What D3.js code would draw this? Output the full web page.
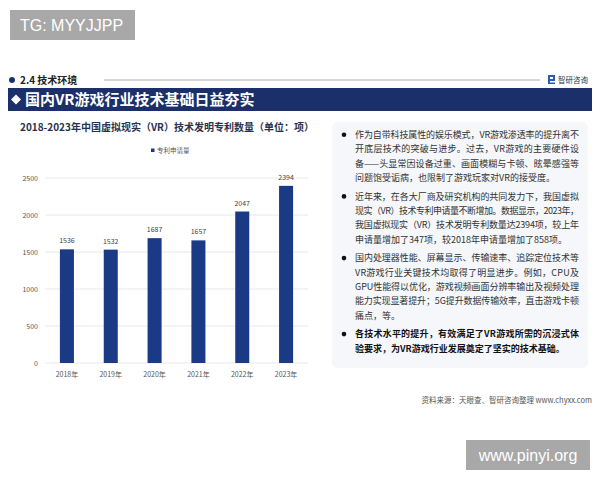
<!DOCTYPE html>
<html>
<head>
<meta charset="utf-8">
<script src="https://cdn.jsdelivr.net/npm/d3@7"></script>
<style>
  body { margin: 0; background: #fff; }
  svg { display: block; font-family: "Noto Sans CJK SC", "Noto Sans", sans-serif; }
</style>
</head>
<body>
<div id="chart"></div>
<script>
// data
const years = ['2018年', '2019年', '2020年', '2021年', '2022年', '2023年'];
const patents = [1536, 1532, 1687, 1657, 2047, 2394];
const yTicks = [0, 500, 1000, 1500, 2000, 2500];

const bullets = [
  { bold: false, lines: [
    '作为自带科技属性的娱乐模式，VR游戏渗透率的提升离不',
    '开底层技术的突破与进步。过去，VR游戏的主要硬件设',
    '备——头显常因设备过重、画面模糊与卡顿、眩晕感强等',
    '问题饱受诟病，也限制了游戏玩家对VR的接受度。'] },
  { bold: false, lines: [
    '近年来，在各大厂商及研究机构的共同发力下，我国虚拟',
    '现实（VR）技术专利申请量不断增加。数据显示，2023年，',
    '我国虚拟现实（VR）技术发明专利数量达2394项，较上年',
    '申请量增加了347项，较2018年申请量增加了858项。'] },
  { bold: false, lines: [
    '国内处理器性能、屏幕显示、传输速率、追踪定位技术等',
    'VR游戏行业关键技术均取得了明显进步。例如，CPU及',
    'GPU性能得以优化，游戏视频画面分辨率输出及视频处理',
    '能力实现显著提升；5G提升数据传输效率，直击游戏卡顿',
    '痛点，等。'] },
  { bold: true, lines: [
    '各技术水平的提升，有效满足了VR游戏所需的沉浸式体',
    '验要求，为VR游戏行业发展奠定了坚实的技术基础。'] }
];

const W = 600, H = 480;
const NAVY = '#1b2f6b';
const BAR = '#1b3a86';

const svg = d3.select('#chart').append('svg')
    .attr('width', W)
    .attr('height', H);

// top-left gray tag
svg.append('rect').attr('x', 10).attr('y', 10).attr('width', 125).attr('height', 30).attr('fill', '#a8a8a8');
svg.append('text').attr('x', 20).attr('y', 31).attr('fill', '#fff')
  .style('font-size', '16px').style('font-family', 'Liberation Sans, Arial, sans-serif')
  .text('TG: MYYJJPP');

// section header
svg.append('circle').attr('cx', 12).attr('cy', 80).attr('r', 3).attr('fill', NAVY);
svg.append('text').attr('x', 20).attr('y', 84).attr('fill', '#222')
  .style('font-size', '10px').style('font-weight', 'bold').text('2.4 技术环境');
svg.append('line').attr('x1', 104).attr('x2', 540).attr('y1', 80).attr('y2', 80)
  .attr('stroke', '#b0b0b0').attr('stroke-width', 1);
// logo
const logo = svg.append('g').attr('transform', 'translate(548,75)');
logo.append('rect').attr('width', 7).attr('height', 9).attr('fill', '#2a5db0');
logo.append('rect').attr('x', 2).attr('y', 2).attr('width', 3).attr('height', 2).attr('fill', '#fff');
logo.append('rect').attr('x', 2).attr('y', 6).attr('width', 5).attr('height', 1.5).attr('fill', '#fff');
logo.append('text').attr('x', 10).attr('y', 8).attr('fill', '#333')
  .style('font-size', '7.5px').text('智研咨询');

// banner
svg.append('rect').attr('x', 8).attr('y', 88).attr('width', 584).attr('height', 23).attr('fill', NAVY);
svg.append('path').attr('d', 'M11,99.5 L16,94.5 L21,99.5 L16,104.5 Z').attr('fill', '#fff');
svg.append('text').attr('x', 25).attr('y', 105).attr('fill', '#fff')
  .style('font-size', '15px').style('font-weight', 'bold')
  .text('国内VR游戏行业技术基础日益夯实');

// chart title
svg.append('text').attr('x', 20).attr('y', 131).attr('fill', '#28324e')
  .style('font-size', '10px').style('font-weight', 'bold')
  .text('2018-2023年中国虚拟现实（VR）技术发明专利数量（单位：项）');

// legend
svg.append('rect').attr('x', 151).attr('y', 148.5).attr('width', 3.5).attr('height', 3.5).attr('fill', BAR);
svg.append('text').attr('x', 157).attr('y', 152.5).attr('fill', '#555')
  .style('font-size', '6.5px').text('专利申请量');

// scales
const x = d3.scaleBand().domain(years).range([45, 308]).paddingInner(0.68).paddingOuter(0.34);
const y = d3.scaleLinear().domain([0, 2500]).range([363, 178]);

const g = svg.append('g');

// gridlines
g.selectAll('line.grid').data(yTicks).join('line')
  .attr('class', 'grid')
  .attr('x1', 45).attr('x2', 308)
  .attr('y1', d => y(d)).attr('y2', d => y(d))
  .attr('stroke', '#e8e8e8').attr('stroke-width', 1);

// y axis labels
g.selectAll('text.ytick').data(yTicks).join('text')
  .attr('class', 'ytick')
  .attr('x', 38).attr('y', d => y(d) + 2.5)
  .attr('text-anchor', 'end')
  .attr('fill', '#555')
  .style('font-size', '7px')
  .text(d => d);

// bars
g.selectAll('rect.bar').data(patents).join('rect')
  .attr('class', 'bar')
  .attr('x', (d, i) => x(years[i]))
  .attr('width', x.bandwidth())
  .attr('y', d => y(d))
  .attr('height', d => y(0) - y(d))
  .attr('fill', BAR);

// value labels
g.selectAll('text.val').data(patents).join('text')
  .attr('class', 'val')
  .attr('x', (d, i) => x(years[i]) + x.bandwidth() / 2)
  .attr('y', d => y(d) - 6)
  .attr('text-anchor', 'middle')
  .attr('fill', '#444')
  .style('font-size', '7px')
  .text(d => d);

// x labels
g.selectAll('text.xl').data(years).join('text')
  .attr('class', 'xl')
  .attr('x', d => x(d) + x.bandwidth() / 2)
  .attr('y', 376.5)
  .attr('text-anchor', 'middle')
  .attr('fill', '#555')
  .style('font-size', '7px')
  .text(d => d);

// right text panel (faint tinted backdrop)
svg.append('rect').attr('x', 332).attr('y', 122).attr('width', 256).attr('height', 246)
  .attr('rx', 6).attr('fill', '#f5f7fa');

const tg = svg.append('g');
const lineH = 14.3;
let ty = 138;
bullets.forEach(b => {
  tg.append('circle').attr('cx', 344).attr('cy', ty - 3.3).attr('r', 2.3).attr('fill', '#111');
  b.lines.forEach((ln, i) => {
    const t = tg.append('text')
      .attr('x', 355).attr('y', ty)
      .attr('fill', b.bold ? '#111' : '#333')
      .style('font-size', '9px')
      .style('font-weight', b.bold ? 'bold' : 'normal')
      .text(ln);
    if (i < b.lines.length - 1) {
      t.attr('textLength', 224).attr('lengthAdjust', 'spacing');
    }
    ty += lineH;
  });
  ty += 4.5;
});

// source
svg.append('text').attr('x', 592).attr('y', 403).attr('text-anchor', 'end')
  .attr('fill', '#555').style('font-size', '7.5px')
  .text('资料来源：天眼查、智研咨询整理 www.chyxx.com');

// bottom-right tag
svg.append('rect').attr('x', 466).attr('y', 440).attr('width', 124).attr('height', 30).attr('fill', '#a8a8a8');
svg.append('text').attr('x', 528).attr('y', 461).attr('text-anchor', 'middle').attr('fill', '#fff')
  .style('font-size', '16px').style('font-family', 'Liberation Sans, Arial, sans-serif')
  .text('www.pinyi.org');
</script>
</body>
</html>
